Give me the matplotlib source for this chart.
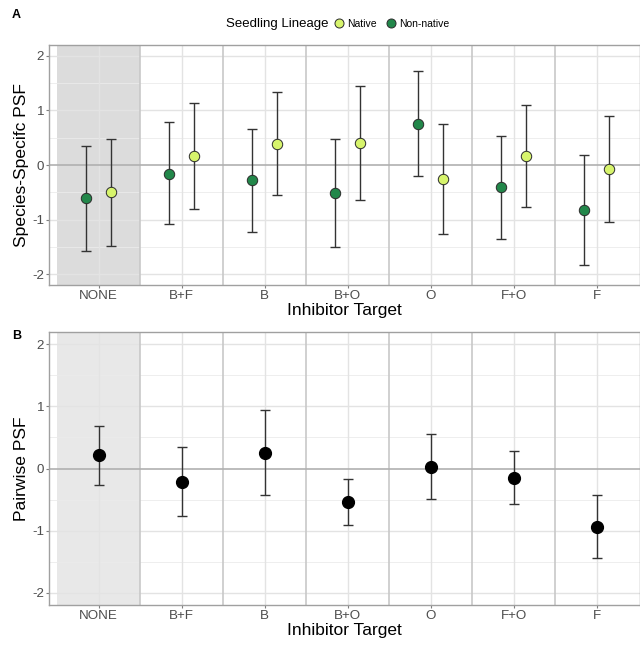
import matplotlib.pyplot as plt
from matplotlib.lines import Line2D

plt.rcParams['font.family'] = ['Liberation Sans', 'DejaVu Sans']

targets = ["NONE", "B+F", "B", "B+O", "O", "F+O", "F"]

# panel A: species-specific PSF by seedling lineage
nonnative_mean = [-0.61, -0.16, -0.27, -0.52, 0.75, -0.41, -0.83]
nonnative_lo = [-1.57, -1.09, -1.22, -1.50, -0.21, -1.35, -1.83]
nonnative_hi = [0.35, 0.79, 0.66, 0.47, 1.73, 0.54, 0.18]
native_mean = [-0.50, 0.16, 0.38, 0.40, -0.25, 0.16, -0.07]
native_lo = [-1.48, -0.80, -0.55, -0.65, -1.26, -0.77, -1.04]
native_hi = [0.48, 1.13, 1.33, 1.44, 0.75, 1.10, 0.90]

# panel B: pairwise PSF
pair_mean = [0.21, -0.21, 0.25, -0.54, 0.03, -0.15, -0.94]
pair_lo = [-0.26, -0.77, -0.43, -0.91, -0.49, -0.58, -1.45]
pair_hi = [0.68, 0.35, 0.94, -0.17, 0.55, 0.28, -0.42]

col_native = "#d7f46c"
col_nonnative = "#22874a"
dodge = 0.15

W, H = 640, 648
fig = plt.figure(figsize=(W / 100, H / 100), dpi=100)
axA = fig.add_axes([49 / W, 1 - 285 / H, (W - 49) / W, 240 / H])
axB = fig.add_axes([49 / W, 1 - 605 / H, (W - 49) / W, 273 / H])


def style_axes(ax, shade):
    x = list(range(1, len(targets) + 1))
    ax.set_xlim(0.4, 7.52)
    ax.set_ylim(-2.2, 2.2)
    ax.axvspan(0.5, 1.5, color=shade, zorder=0, lw=0)
    for yv in [-1.5, -0.5, 0.5, 1.5]:
        ax.axhline(yv, color="#ebebeb", lw=0.6, zorder=0.5)
    for yv in [-2, -1, 1, 2]:
        ax.axhline(yv, color="#e3e3e3", lw=1.0, zorder=0.5)
    for xv in x:
        ax.axvline(xv, color="#e3e3e3", lw=1.0, zorder=0.5)
    for xv in [1.5, 2.5, 3.5, 4.5, 5.5, 6.5]:
        ax.axvline(xv, color="#c8c8c8", lw=1.2, zorder=0.6)
    ax.axhline(0, color="#b0b0b0", lw=1.2, zorder=0.6)
    ax.set_xticks(x)
    ax.set_xticklabels(targets)
    ax.set_yticks([-2, -1, 0, 1, 2])
    ax.set_yticklabels(["-2", "-1", "0", "1", "2"])
    ax.tick_params(labelsize=9.6, length=2, width=0.8, pad=1.5,
                   colors="#7f7f7f", labelcolor="#4d4d4d")
    for s in ax.spines.values():
        s.set_color("#a0a0a0")
        s.set_linewidth(1.0)
    ax.set_xlabel("Inhibitor Target", fontsize=12.5, labelpad=1)


style_axes(axA, "#dcdcdc")
style_axes(axB, "#e8e8e8")

xs = list(range(1, len(targets) + 1))
for vals, lo, hi, col, off in [
    (nonnative_mean, nonnative_lo, nonnative_hi, col_nonnative, -dodge),
    (native_mean, native_lo, native_hi, col_native, dodge),
]:
    xp = [v + off for v in xs]
    err = [[m - l for m, l in zip(vals, lo)], [h - m for m, h in zip(vals, hi)]]
    axA.errorbar(xp, vals, yerr=err, fmt="none", ecolor="#333333",
                 elinewidth=1.0, capsize=3.5, capthick=1.0, zorder=3)
    axA.plot(xp, vals, "o", ms=7.5, mfc=col, mec="#2b2b2b", mew=0.7, zorder=4)
axA.set_ylabel("Species-Specifc PSF", fontsize=12.6, labelpad=2.5)

errB = [[m - l for m, l in zip(pair_mean, pair_lo)], [h - m for m, h in zip(pair_mean, pair_hi)]]
axB.errorbar(xs, pair_mean, yerr=errB, fmt="none", ecolor="#333333",
             elinewidth=1.0, capsize=3.5, capthick=1.0, zorder=3)
axB.plot(xs, pair_mean, "o", ms=8.5, color="black", zorder=4)
axB.set_ylabel("Pairwise PSF", fontsize=12.6, labelpad=2.5)

fig.text(16 / W, 1 - 15 / H, "A", fontsize=9, fontweight="bold", va="center", ha="center")
fig.text(17 / W, 1 - 336 / H, "B", fontsize=9, fontweight="bold", va="center", ha="center")

# legend: title as text, entries as a borderless legend to its right
fig.text(277 / W, 1 - 24 / H, "Seedling Lineage", fontsize=9.5, ha="center", va="center")
handles = [
    Line2D([], [], ls="none", marker="o", ms=6.5, mfc=col_native, mec="#2b2b2b", mew=0.7),
    Line2D([], [], ls="none", marker="o", ms=6.5, mfc=col_nonnative, mec="#2b2b2b", mew=0.7),
]
fig.legend(handles, ["Native", "Non-native"], loc="center left",
           bbox_to_anchor=(334 / W, 1 - 24 / H), ncol=2, frameon=False,
           fontsize=7.5, handletextpad=0.3, columnspacing=0.8, handlelength=1.0,
           borderpad=0, borderaxespad=0)

fig.savefig("out.png", dpi=100)
